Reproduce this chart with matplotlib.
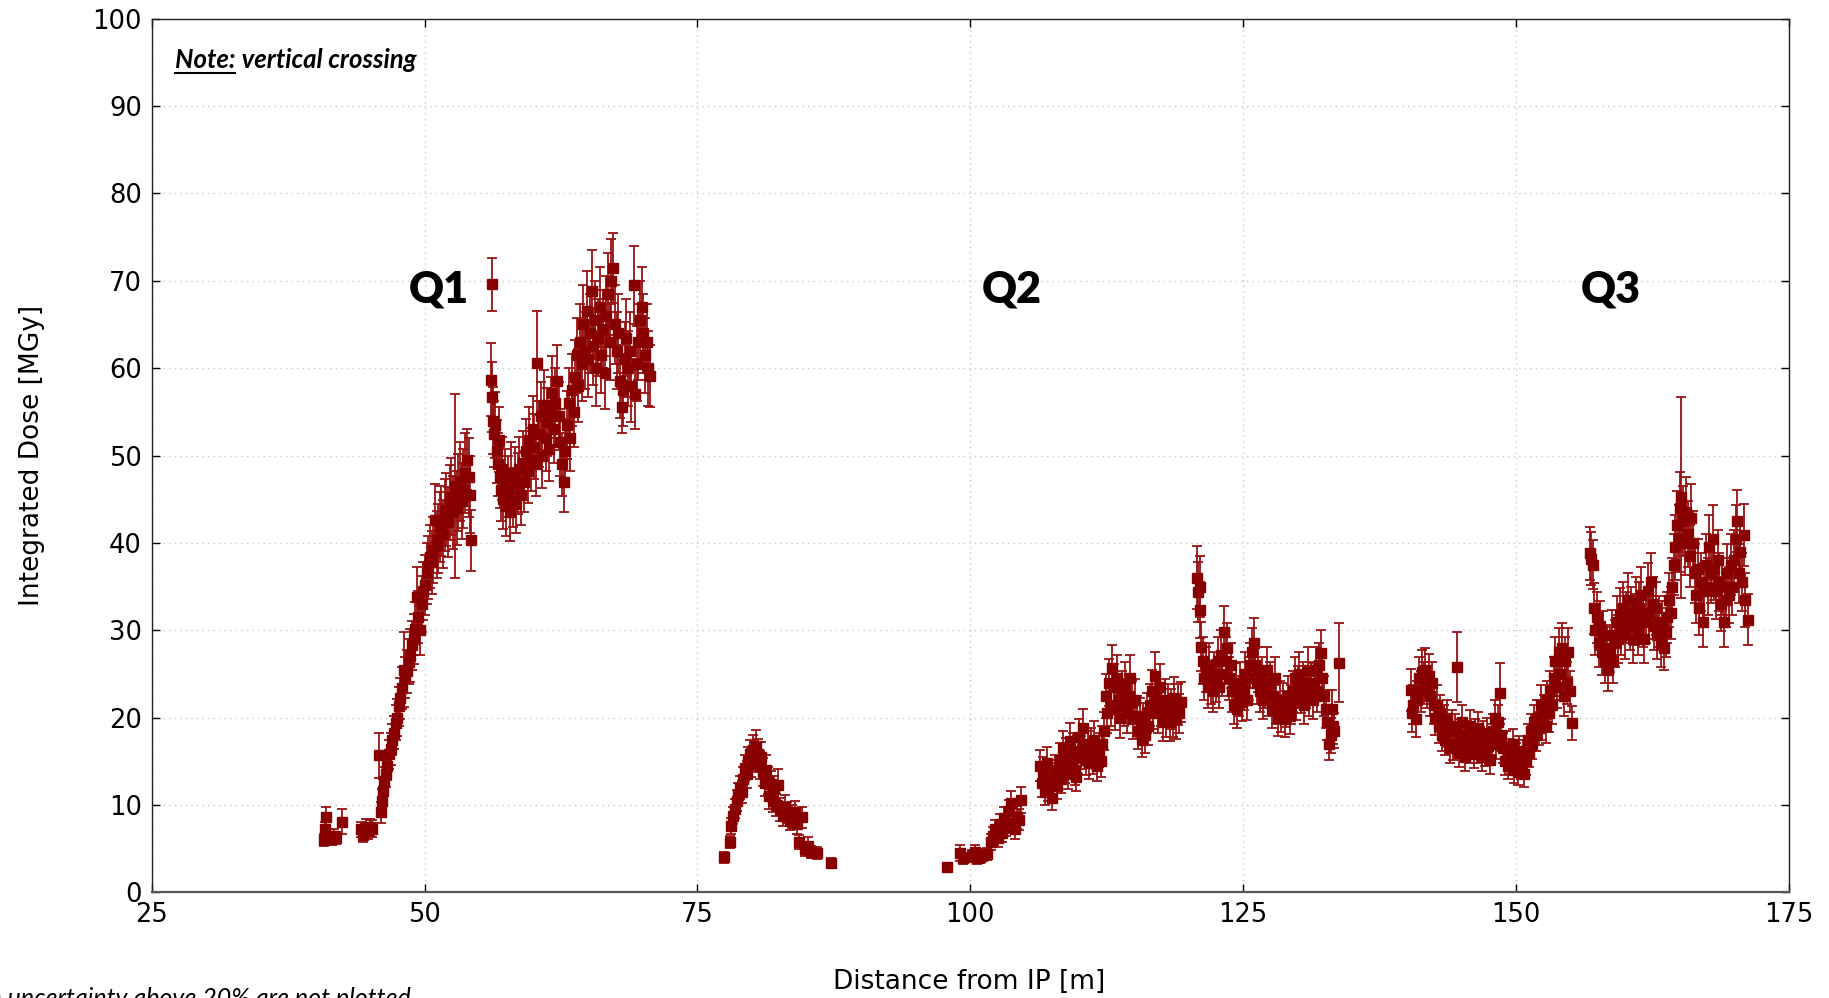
import matplotlib
matplotlib.use("Agg")
import matplotlib.pyplot as plt
from matplotlib.lines import Line2D
from matplotlib.transforms import offset_copy

# ---------------- data (x [m], dose [MGy], uncertainty [MGy]) ----------------
q1_low = [(40.8, 6.0, 0.7), (40.9, 7.2, 0.9), (41.0, 8.6, 1.2), (41.2, 6.5, 0.8), (41.5, 6.1, 0.7),
          (41.7, 6.4, 0.8), (41.9, 6.2, 0.7), (42.4, 8.1, 1.4), (44.2, 7.2, 0.9), (44.4, 6.6, 0.8),
          (44.6, 7.4, 1.0), (44.8, 7.0, 0.9), (45.0, 7.5, 0.9), (45.2, 7.3, 1.0)]

q1_ramp = [(45.8, 15.7, 2.6), (46.0, 9.2, 1.2), (46.1, 10.5, 1.3), (46.2, 11.6, 1.4), (46.3, 12.8, 1.5),
           (46.45, 13.6, 1.5), (46.6, 14.5, 1.6), (46.75, 15.8, 1.7), (46.9, 16.4, 1.8), (47.05, 17.5, 1.8),
           (47.2, 18.3, 1.9), (47.35, 19.4, 2.0), (47.5, 20.0, 2.1), (47.65, 21.3, 2.2), (47.8, 22.2, 2.3),
           (47.95, 23.4, 2.4), (48.1, 25.5, 4.3), (48.25, 24.6, 2.4), (48.4, 25.3, 2.5), (48.55, 26.4, 2.6),
           (48.7, 27.1, 3.0), (48.85, 28.3, 2.8), (49.0, 29.0, 2.9), (49.15, 30.2, 3.0), (49.3, 33.8, 3.5),
           (49.45, 31.5, 3.0), (49.6, 30.0, 2.8), (49.75, 33.0, 3.2), (49.9, 34.5, 3.3), (50.05, 35.2, 3.4),
           (50.2, 36.5, 3.5), (50.35, 37.2, 3.6), (50.5, 38.4, 3.6), (50.65, 37.8, 3.6), (50.8, 39.2, 3.8),
           (50.95, 42.6, 4.2), (51.1, 39.8, 3.8), (51.25, 40.5, 4.0), (51.4, 41.8, 4.0), (51.55, 42.5, 4.0),
           (51.7, 41.0, 3.9), (51.85, 43.2, 4.1), (52.0, 43.8, 4.2), (52.15, 42.4, 4.0), (52.3, 44.6, 4.3),
           (52.45, 45.3, 4.4), (52.6, 43.5, 4.2), (52.8, 46.5, 10.5), (52.95, 44.0, 4.2), (53.1, 45.8, 4.4),
           (53.25, 47.0, 4.5), (53.4, 44.8, 4.3), (53.55, 46.2, 4.5), (53.7, 48.0, 4.6), (53.9, 49.5, 3.5),
           (54.05, 47.5, 4.5), (54.2, 45.5, 4.4), (54.3, 40.3, 3.5)]

q1_high = [(56.15, 69.6, 3.0), (56.1, 58.7, 4.2), (56.2, 56.7, 4.0), (56.3, 54.0, 3.8), (56.4, 52.5, 3.8),
           (56.5, 53.5, 3.8), (56.6, 50.5, 3.6), (56.7, 49.0, 3.6), (56.8, 51.8, 3.7), (56.9, 47.5, 3.5),
           (57.0, 46.0, 3.5), (57.1, 48.5, 3.6), (57.2, 45.0, 3.4), (57.35, 47.2, 3.5), (57.5, 44.2, 3.4),
           (57.65, 46.5, 3.5), (57.8, 43.5, 3.3), (57.95, 48.0, 3.6), (58.1, 45.2, 3.4), (58.25, 47.5, 3.5),
           (58.4, 44.5, 3.4), (58.55, 46.8, 3.5), (58.7, 48.5, 3.6), (58.85, 45.5, 3.4), (59.0, 49.2, 3.6),
           (59.15, 47.0, 3.5), (59.3, 50.5, 3.7), (59.45, 48.2, 3.6), (59.6, 51.8, 3.8), (59.75, 49.5, 3.6),
           (59.9, 53.0, 3.8), (60.05, 51.0, 3.7), (60.2, 49.0, 3.6), (60.35, 60.6, 6.0), (60.5, 52.5, 3.8),
           (60.65, 54.5, 3.9), (60.8, 50.0, 3.7), (60.95, 55.8, 4.0), (61.1, 52.0, 3.8), (61.25, 53.8, 3.9),
           (61.4, 50.8, 3.7), (61.55, 55.0, 4.0), (61.7, 57.2, 4.2), (61.85, 53.0, 3.9), (62.0, 56.0, 4.0),
           (62.15, 58.5, 4.2), (62.3, 54.5, 3.9), (62.45, 51.5, 3.8), (62.6, 49.0, 3.6), (62.75, 47.0, 3.5),
           (62.9, 50.5, 3.7), (63.05, 53.5, 3.9), (63.2, 56.0, 4.0), (63.35, 52.0, 3.8), (63.5, 57.5, 4.1),
           (63.65, 55.0, 4.0), (63.8, 59.0, 4.2), (63.95, 61.5, 4.3), (64.1, 58.0, 4.2), (64.25, 63.0, 4.4),
           (64.4, 60.5, 4.3), (64.55, 65.0, 4.5), (64.7, 62.0, 4.4), (64.85, 66.5, 4.6), (65.0, 61.0, 4.3),
           (65.15, 64.0, 4.5), (65.3, 68.8, 4.7), (65.45, 62.5, 4.4), (65.6, 65.5, 4.5), (65.75, 60.0, 4.3),
           (65.9, 63.5, 4.4), (66.05, 67.0, 4.6), (66.2, 61.5, 4.3), (66.35, 64.5, 4.5), (66.5, 59.5, 4.2),
           (66.65, 66.0, 4.6), (66.8, 68.5, 4.7), (66.95, 63.0, 4.4), (67.1, 70.0, 4.8), (67.3, 71.5, 4.0),
           (67.45, 65.0, 4.5), (67.6, 62.0, 4.4), (67.75, 64.0, 4.5), (67.9, 58.5, 4.2), (68.05, 55.6, 3.0),
           (68.2, 57.5, 4.1), (68.35, 61.0, 4.3), (68.5, 63.5, 4.4), (68.65, 60.0, 4.3), (68.8, 62.0, 4.4),
           (68.95, 58.0, 4.2), (69.15, 69.5, 4.5), (69.3, 57.0, 4.0), (69.45, 60.5, 4.3), (69.6, 63.0, 4.4),
           (69.75, 65.5, 4.5), (69.9, 67.0, 4.6), (70.05, 64.0, 4.5), (70.2, 61.5, 4.3), (70.35, 63.0, 4.4),
           (70.5, 60.0, 4.3), (70.7, 59.1, 3.5)]

hump = [(77.4, 4.0, 0.6), (78.0, 5.8, 0.7), (78.1, 7.6, 0.9), (78.3, 8.8, 1.0), (78.45, 9.6, 1.1),
        (78.6, 10.5, 1.2), (78.75, 11.2, 1.3), (78.9, 12.0, 1.3), (79.05, 11.5, 1.3), (79.2, 13.0, 1.4),
        (79.35, 14.2, 1.5), (79.5, 13.5, 1.5), (79.65, 15.0, 1.6), (79.8, 15.8, 1.7), (79.95, 14.8, 1.6),
        (80.1, 16.3, 1.7), (80.25, 15.5, 1.7), (80.4, 16.7, 1.9), (80.55, 15.8, 1.8), (80.7, 14.6, 1.6),
        (80.85, 15.5, 1.7), (81.0, 13.8, 1.6), (81.15, 12.5, 1.5), (81.3, 14.0, 1.7), (81.45, 12.8, 1.5),
        (81.6, 11.0, 1.4), (81.75, 12.4, 1.5), (81.9, 10.5, 1.3), (82.05, 11.8, 1.5), (82.2, 10.0, 1.3),
        (82.4, 12.3, 1.8), (82.6, 9.5, 1.3), (82.8, 8.8, 1.2), (83.0, 9.8, 1.3), (83.2, 9.1, 1.2),
        (83.45, 8.2, 1.1), (83.7, 8.7, 1.3), (83.9, 9.2, 1.3), (84.1, 7.8, 1.1), (84.3, 5.8, 0.8),
        (84.6, 8.6, 1.2), (84.85, 5.0, 0.8), (85.1, 5.3, 1.0), (85.4, 4.6, 0.7), (86.0, 4.5, 0.7),
        (87.2, 3.4, 0.5)]

q2_low = [(97.9, 2.9, 0.4), (99.1, 4.5, 0.9), (99.3, 3.9, 0.6), (100.2, 4.2, 0.7), (100.4, 4.6, 0.8),
          (100.6, 3.9, 0.6), (100.9, 4.1, 0.7), (101.2, 4.3, 0.7), (101.5, 4.4, 0.7), (101.9, 5.8, 0.9),
          (102.1, 6.5, 1.0), (102.3, 7.2, 1.1), (102.5, 6.2, 1.0), (102.7, 7.8, 1.2), (102.9, 6.8, 1.0),
          (103.1, 8.5, 1.3), (103.3, 7.5, 1.1), (103.5, 9.3, 1.3), (103.7, 10.2, 1.4), (103.9, 8.0, 1.2),
          (104.1, 7.2, 1.1), (104.3, 8.6, 1.3), (104.5, 8.3, 1.2), (104.65, 10.6, 1.5),
          (106.4, 14.5, 1.8), (106.55, 12.5, 1.6), (106.7, 13.8, 1.7), (106.85, 11.5, 1.5), (107.0, 14.8, 1.8),
          (107.15, 12.0, 1.5), (107.3, 13.2, 1.6), (107.45, 10.8, 1.4), (107.6, 12.8, 1.6), (107.75, 14.0, 1.7),
          (107.9, 12.2, 1.5), (108.05, 13.5, 1.7), (108.2, 15.2, 1.9), (108.35, 13.0, 1.6), (108.5, 16.5, 2.0),
          (108.65, 14.2, 1.7), (108.8, 15.8, 1.9), (108.95, 13.5, 1.7), (109.1, 17.3, 2.1), (109.25, 15.0, 1.8),
          (109.4, 16.2, 2.0), (109.55, 14.0, 1.7), (109.7, 13.2, 1.6), (109.85, 15.5, 1.9),
          (110.0, 17.8, 2.1), (110.15, 16.0, 1.9), (110.3, 18.8, 2.2), (110.45, 17.0, 2.0), (110.6, 15.2, 1.8),
          (110.75, 16.5, 2.0), (110.9, 14.8, 1.8), (111.05, 16.8, 2.0), (111.2, 15.5, 1.9), (111.35, 17.5, 2.1),
          (111.5, 16.0, 1.9), (111.65, 14.5, 1.8), (111.8, 16.3, 2.0), (111.95, 15.0, 1.8), (112.1, 17.0, 2.0),
          (112.25, 18.5, 2.2)]

q2_mid = [(112.4, 22.5, 2.5), (112.55, 20.5, 2.3), (112.7, 24.0, 2.7), (112.85, 21.5, 2.4), (113.0, 25.7, 2.6),
          (113.15, 23.5, 2.6), (113.3, 21.0, 2.4), (113.45, 24.5, 2.7), (113.6, 22.0, 2.4), (113.75, 20.0, 2.3),
          (113.9, 22.8, 2.5), (114.05, 21.5, 2.4), (114.2, 23.8, 2.6), (114.35, 20.5, 2.3), (114.5, 22.5, 2.5),
          (114.65, 24.5, 2.7), (114.8, 21.8, 2.4), (114.95, 19.8, 2.2), (115.1, 22.0, 2.4), (115.25, 20.2, 2.3),
          (115.4, 18.5, 2.1), (115.55, 20.0, 2.2), (115.7, 17.5, 2.0), (115.85, 19.5, 2.2), (116.0, 18.0, 2.1),
          (116.15, 20.5, 2.3), (116.3, 19.0, 2.1), (116.45, 21.5, 2.4), (116.6, 23.0, 2.5), (116.75, 21.0, 2.3),
          (116.9, 24.8, 2.7), (117.05, 22.5, 2.5), (117.2, 20.5, 2.3), (117.35, 23.5, 2.6), (117.5, 21.5, 2.4),
          (117.65, 19.5, 2.2), (117.8, 22.0, 2.4), (117.95, 20.0, 2.2), (118.1, 21.5, 2.4), (118.25, 19.5, 2.2),
          (118.4, 21.0, 2.3), (118.55, 20.0, 2.2), (118.7, 22.2, 2.4), (118.85, 19.8, 2.2), (119.0, 21.5, 2.3),
          (119.15, 20.5, 2.2), (119.3, 21.8, 2.3)]

q2_high = [(120.8, 36.0, 3.6), (120.9, 34.4, 3.4), (121.0, 35.0, 3.5), (121.05, 32.3, 3.2), (121.15, 28.1, 2.8),
           (121.3, 26.5, 2.7), (121.45, 24.5, 2.5), (121.6, 25.5, 2.6), (121.75, 23.5, 2.4), (121.9, 26.0, 2.6),
           (122.05, 24.0, 2.4), (122.2, 23.0, 2.3), (122.35, 25.0, 2.5), (122.5, 24.2, 2.4), (122.65, 26.5, 2.7),
           (122.8, 23.5, 2.4), (122.95, 27.2, 2.8), (123.1, 25.0, 2.5), (123.25, 29.8, 3.0), (123.4, 26.5, 2.7),
           (123.55, 28.0, 2.8), (123.7, 24.5, 2.5), (123.85, 26.0, 2.6), (124.0, 23.0, 2.4), (124.15, 21.5, 2.2),
           (124.3, 23.8, 2.4), (124.45, 21.0, 2.2), (124.6, 22.5, 2.3), (124.75, 24.0, 2.4), (124.9, 21.8, 2.2),
           (125.05, 23.2, 2.3), (125.2, 25.0, 2.5), (125.35, 22.0, 2.3), (125.5, 24.5, 2.5), (125.65, 26.0, 2.6),
           (125.8, 27.5, 2.8), (125.95, 28.5, 2.9), (126.1, 26.0, 2.6), (126.25, 24.0, 2.4), (126.4, 25.5, 2.6),
           (126.55, 23.0, 2.3), (126.7, 24.5, 2.5), (126.85, 22.0, 2.2), (127.0, 23.5, 2.4), (127.15, 25.5, 2.6),
           (127.3, 22.5, 2.3), (127.45, 24.0, 2.4), (127.6, 21.0, 2.2), (127.75, 22.5, 2.3), (127.9, 24.5, 2.5),
           (128.05, 21.5, 2.2), (128.2, 20.0, 2.1), (128.35, 22.0, 2.2), (128.5, 20.5, 2.1), (128.65, 21.8, 2.2),
           (128.8, 19.8, 2.0), (128.95, 21.0, 2.1), (129.1, 22.5, 2.3), (129.25, 20.2, 2.1), (129.4, 21.5, 2.2),
           (129.55, 23.0, 2.3), (129.7, 24.5, 2.5), (129.85, 22.0, 2.3), (130.0, 23.5, 2.4), (130.15, 25.0, 2.5),
           (130.3, 22.8, 2.3), (130.45, 24.0, 2.4), (130.6, 21.5, 2.2), (130.75, 23.5, 2.4), (130.9, 25.5, 2.6),
           (131.05, 22.5, 2.3), (131.2, 24.0, 2.4), (131.35, 22.0, 2.2), (131.5, 23.8, 2.4), (131.65, 25.5, 2.6),
           (131.8, 23.0, 2.3), (131.95, 26.0, 2.6), (132.1, 27.4, 2.6), (132.25, 24.5, 2.5), (132.4, 22.5, 2.3),
           (132.55, 21.0, 2.2), (132.7, 19.5, 2.0), (132.85, 17.0, 1.9), (133.0, 18.0, 2.0), (133.1, 21.0, 2.2),
           (133.2, 19.0, 2.0), (133.3, 18.5, 2.0), (133.8, 26.3, 4.5)]

q3_low = [(140.4, 23.2, 2.4), (140.5, 20.5, 2.1), (140.6, 21.5, 2.2), (140.8, 19.8, 2.0), (140.95, 22.0, 2.2),
          (141.1, 24.5, 2.5), (141.25, 23.0, 2.3), (141.4, 25.2, 2.5), (141.55, 24.0, 2.4), (141.7, 25.5, 2.5),
          (141.85, 23.5, 2.4), (142.0, 24.8, 2.5), (142.15, 22.5, 2.3), (142.3, 24.0, 2.4), (142.45, 21.5, 2.2),
          (142.6, 20.0, 2.0), (142.75, 21.5, 2.2), (142.9, 19.0, 1.9), (143.05, 20.5, 2.1), (143.2, 18.0, 1.8),
          (143.35, 19.5, 2.0), (143.5, 17.5, 1.8), (143.65, 20.0, 2.0), (143.8, 18.5, 1.9), (143.95, 16.5, 1.7),
          (144.1, 19.0, 1.9), (144.25, 17.0, 1.8), (144.4, 18.5, 1.9), (144.6, 25.8, 4.0), (144.75, 16.0, 1.7),
          (144.9, 18.0, 1.8), (145.05, 19.5, 2.0), (145.2, 17.0, 1.7), (145.35, 15.5, 1.6), (145.5, 17.8, 1.8),
          (145.65, 16.5, 1.7), (145.8, 19.0, 1.9), (145.95, 17.0, 1.7), (146.1, 15.8, 1.6), (146.25, 18.0, 1.8),
          (146.4, 16.5, 1.7), (146.55, 18.8, 1.9), (146.7, 17.2, 1.7), (146.85, 15.5, 1.6), (147.0, 17.8, 1.8),
          (147.15, 16.2, 1.7), (147.3, 18.2, 1.8), (147.45, 16.8, 1.7), (147.6, 15.2, 1.6), (147.75, 17.5, 1.8),
          (147.9, 18.5, 1.9), (148.05, 20.0, 2.0), (148.2, 17.0, 1.7), (148.35, 19.5, 2.0), (148.5, 22.8, 3.5),
          (148.65, 18.0, 1.8), (148.8, 16.5, 1.7), (148.95, 15.0, 1.6), (149.1, 16.8, 1.7), (149.25, 14.5, 1.5),
          (149.4, 16.0, 1.6), (149.55, 15.2, 1.6), (149.7, 17.0, 1.7), (149.85, 14.0, 1.5), (150.0, 15.5, 1.6),
          (150.15, 13.8, 1.5), (150.3, 16.2, 1.7), (150.45, 14.5, 1.5), (150.6, 15.8, 1.6), (150.75, 13.5, 1.4),
          (150.9, 15.0, 1.6), (151.05, 17.5, 1.8), (151.2, 16.0, 1.7), (151.35, 18.5, 1.9), (151.5, 17.0, 1.7),
          (151.65, 19.5, 2.0), (151.8, 18.0, 1.8), (151.95, 20.0, 2.0), (152.1, 18.8, 1.9), (152.25, 21.5, 2.2),
          (152.4, 19.5, 2.0), (152.55, 20.5, 2.1), (152.7, 19.0, 1.9), (152.85, 22.0, 2.2), (153.0, 20.5, 2.1),
          (153.15, 23.0, 2.3), (153.3, 21.5, 2.2), (153.45, 24.5, 2.5), (153.6, 26.5, 2.7), (153.75, 23.5, 2.4),
          (153.9, 27.5, 2.8), (154.05, 25.0, 2.5), (154.2, 28.0, 2.8), (154.35, 22.5, 2.3), (154.5, 26.5, 2.7),
          (154.65, 24.0, 2.4), (154.8, 27.5, 2.8), (154.95, 23.0, 2.3), (155.15, 19.4, 1.9)]

q3_high = [(156.8, 38.8, 3.0), (156.9, 38.2, 3.0), (157.0, 37.5, 2.8), (157.1, 32.5, 2.9), (157.25, 30.0, 2.8),
           (157.4, 31.5, 2.9), (157.55, 28.5, 2.7), (157.7, 30.5, 2.8), (157.85, 27.5, 2.6), (158.0, 29.5, 2.7),
           (158.15, 26.5, 2.5), (158.3, 28.0, 2.6), (158.45, 25.5, 2.4), (158.6, 27.8, 2.6), (158.75, 29.5, 2.8),
           (158.9, 26.5, 2.5), (159.05, 28.5, 2.7), (159.2, 31.0, 2.9), (159.35, 29.0, 2.7), (159.5, 31.8, 3.0),
           (159.65, 30.0, 2.8), (159.8, 32.5, 3.0), (159.95, 29.5, 2.8), (160.1, 31.5, 2.9), (160.25, 33.5, 3.1),
           (160.4, 30.5, 2.8), (160.55, 32.0, 3.0), (160.7, 29.0, 2.7), (160.85, 31.2, 2.9), (161.0, 33.0, 3.1),
           (161.15, 30.0, 2.8), (161.3, 32.5, 3.0), (161.45, 34.0, 3.2), (161.6, 31.0, 2.9), (161.75, 29.0, 2.7),
           (161.9, 31.5, 2.9), (162.05, 34.5, 3.2), (162.2, 32.0, 3.0), (162.35, 35.5, 3.3), (162.5, 33.0, 3.1),
           (162.65, 30.5, 2.8), (162.8, 32.5, 3.0), (162.95, 29.5, 2.8), (163.1, 31.0, 2.9), (163.25, 28.5, 2.7),
           (163.4, 30.5, 2.8), (163.55, 28.0, 2.6), (163.7, 29.8, 2.8), (163.85, 31.5, 2.9), (164.0, 33.5, 3.1),
           (164.15, 32.0, 3.0), (164.3, 35.0, 3.3), (164.45, 37.5, 3.5), (164.6, 39.5, 3.7), (164.75, 42.0, 3.9),
           (164.9, 40.5, 3.8), (165.05, 44.0, 4.1), (165.15, 45.2, 11.5), (165.3, 42.5, 4.0), (165.45, 40.0, 3.7),
           (165.6, 43.5, 4.0), (165.75, 41.0, 3.8), (165.9, 38.5, 3.6), (166.05, 42.8, 4.0), (166.2, 40.0, 3.7),
           (166.35, 36.5, 3.4), (166.5, 34.0, 3.2), (166.65, 37.0, 3.4), (166.8, 32.5, 3.0), (166.95, 35.5, 3.3),
           (167.1, 31.0, 2.9), (167.25, 34.5, 3.2), (167.4, 37.5, 3.5), (167.55, 35.0, 3.3), (167.7, 39.5, 3.7),
           (167.85, 36.5, 3.4), (168.0, 40.5, 3.8), (168.15, 37.0, 3.5), (168.3, 34.5, 3.2), (168.45, 38.0, 3.5),
           (168.6, 35.5, 3.3), (168.75, 33.0, 3.1), (168.9, 35.0, 3.3), (169.05, 31.0, 2.9), (169.2, 33.5, 3.1),
           (169.35, 36.5, 3.4), (169.5, 34.0, 3.2), (169.65, 37.5, 3.5), (169.8, 35.0, 3.3), (169.95, 38.0, 3.5),
           (170.1, 40.5, 3.8), (170.25, 42.5, 3.5), (170.4, 36.5, 3.4), (170.55, 39.0, 3.6), (170.7, 35.5, 3.3),
           (170.9, 40.9, 3.5), (171.0, 33.5, 3.1), (171.2, 31.2, 2.9)]

segments = [q1_low, q1_ramp, q1_high, hump, q2_low, q2_mid, q2_high, q3_low, q3_high]

x_ticks = [25, 50, 75, 100, 125, 150, 175]
y_ticks = [0, 10, 20, 30, 40, 50, 60, 70, 80, 90, 100]
region_labels = [("Q1", 51.3, 69.0), ("Q2", 103.8, 69.0), ("Q3", 158.7, 69.0)]

# ---------------- figure ----------------
W, H, DPI = 1829, 998, 100
fig = plt.figure(figsize=(W / DPI, H / DPI), dpi=DPI)
ax = fig.add_axes([151.6 / W, 1 - 892.4 / H, 1637.4 / W, 873.7 / H])

marker_col = "#880000"
err_col = "#981212"
for seg in segments:
    xs = [p[0] for p in seg]
    ys = [p[1] for p in seg]
    es = [p[2] for p in seg]
    ax.errorbar(xs, ys, yerr=es, fmt="s", color=marker_col, mfc=marker_col, mec=marker_col,
                ecolor=err_col, elinewidth=1.3, capsize=3.6, capthick=1.3, markersize=7.2, zorder=3)

ax.set_xlim(25, 175)
ax.set_ylim(0, 100)
ax.set_xticks(x_ticks)
ax.set_yticks(y_ticks)
ax.grid(True, color="#c8c8c8", linestyle=(0, (1, 3)), linewidth=1.0, zorder=0)
ax.set_axisbelow(True)
ax.tick_params(axis="both", which="both", direction="in", top=True, right=True,
               length=6, width=1, labelsize=18.5, colors="black")
ax.tick_params(axis="x", pad=7)
ax.tick_params(axis="y", pad=7)
for sp in ax.spines.values():
    sp.set_color("#222222")
    sp.set_linewidth(1.0)
ax.spines["bottom"].set_linewidth(1.6)
ax.spines["bottom"].set_color("#555555")

ax.set_ylabel("Integrated Dose [MGy]", fontsize=19, family="DejaVu Sans")
ax.yaxis.label.set_va("center")
ax.yaxis.set_label_coords(-0.0728, 0.5)
ax.set_xlabel("Distance from IP [m]", fontsize=19, family="DejaVu Sans")
ax.xaxis.label.set_va("center")
ax.xaxis.set_label_coords(0.4995, -0.1026)

for lab, lx, ly in region_labels:
    ax.text(lx, ly, lab, ha="center", va="center", fontsize=31, fontweight="heavy",
            family="Lato", color="black", zorder=5)

# Note with underlined "Note:"
t1 = ax.text(0.0143, 0.953, "Note:", transform=ax.transAxes, ha="left", va="center",
             fontsize=18.5, fontweight="bold", style="italic", family="Lato")
fig.canvas.draw()
renderer = fig.canvas.get_renderer()
bb = t1.get_window_extent(renderer)
ax.text(0.0143, 0.953, " vertical crossing",
        transform=offset_copy(ax.transAxes, fig=fig, x=bb.width * 72 / DPI, y=0, units="points"),
        ha="left", va="center", fontsize=18.5, fontweight="bold", style="italic", family="Lato")
uy = bb.y0 - 1.0
fig.add_artist(Line2D([bb.x0 / W, (bb.x1 - 1) / W], [uy / H, uy / H], color="black", linewidth=1.5))

fig.text(410.6 / W, -0.008, "Points with uncertainty above 20% are not plotted", ha="right",
         va="baseline", fontsize=18, style="italic", family="Lato", color="black")

fig.savefig("out.png", dpi=DPI)
